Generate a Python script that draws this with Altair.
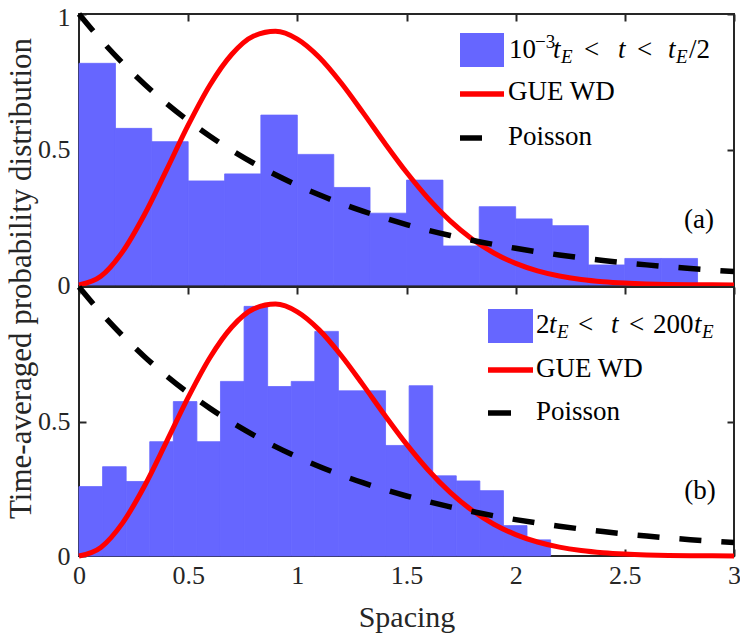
import altair as alt
import pandas as pd

# ---------------- data ----------------
s_grid = [0.0, 0.1, 0.2, 0.3, 0.4, 0.5, 0.6, 0.7, 0.8, 0.9, 1.0,
          1.1, 1.2, 1.3, 1.4, 1.5, 1.6, 1.7, 1.8, 1.9, 2.0,
          2.1, 2.2, 2.3, 2.4, 2.5, 2.6, 2.7, 2.8, 2.9, 3.0]
gue_wd = [0.0, 0.0320, 0.1233, 0.2602, 0.4232, 0.5896, 0.7381, 0.8514, 0.9187, 0.9364, 0.9076,
          0.8406, 0.7464, 0.6371, 0.5240, 0.4158, 0.3188, 0.2364, 0.1697, 0.1181, 0.0797,
          0.0521, 0.0331, 0.0204, 0.0122, 0.0071, 0.0040, 0.0022, 0.0012, 0.0006, 0.0003]
poisson = [1.0, 0.9048, 0.8187, 0.7408, 0.6703, 0.6065, 0.5488, 0.4966, 0.4493, 0.4066, 0.3679,
           0.3329, 0.3012, 0.2725, 0.2466, 0.2231, 0.2019, 0.1827, 0.1653, 0.1496, 0.1353,
           0.1225, 0.1108, 0.1003, 0.0907, 0.0821, 0.0743, 0.0672, 0.0608, 0.0550, 0.0498]

top_edges = [0.0, 0.167, 0.333, 0.5, 0.667, 0.833, 1.0, 1.167, 1.333, 1.5, 1.667,
             1.833, 2.0, 2.167, 2.333, 2.5, 2.667, 2.833]
top_heights = [0.818, 0.578, 0.529, 0.384, 0.410, 0.627, 0.482, 0.360, 0.265, 0.387,
               0.144, 0.289, 0.244, 0.219, 0.074, 0.098, 0.098]

bot_edges = [0.0, 0.108, 0.216, 0.324, 0.432, 0.54, 0.648, 0.756, 0.864, 0.972, 1.08,
             1.188, 1.296, 1.404, 1.512, 1.62, 1.728, 1.836, 1.944, 2.052, 2.16]
bot_heights = [0.258, 0.332, 0.277, 0.425, 0.574, 0.425, 0.649, 0.928, 0.630, 0.649,
               0.835, 0.614, 0.614, 0.411, 0.633, 0.298, 0.279, 0.243, 0.113, 0.060]

x_ticks = [0, 0.5, 1, 1.5, 2, 2.5, 3]
top_y_ticks = [0, 0.5, 1]
bot_y_ticks = [0, 0.5]

FONT = "'Liberation Serif', 'DejaVu Serif', serif"
BLUE = "#6666ff"
AX = "#262626"
W = 655

curve_df = pd.DataFrame({"s": s_grid, "gue": gue_wd, "poisson": poisson})
one = pd.DataFrame({"k": [0]})

xs = alt.Scale(domain=[0, 3], nice=False, zero=False)
ys = alt.Scale(domain=[0, 1], nice=False, zero=False)


def tick_axis(orient, values):
    return alt.Axis(orient=orient, values=values, labels=False, domain=False, grid=False,
                    ticks=True, tickSize=7, tickWidth=2, tickColor=AX, offset=-7, title=None)


def txt(t, x, y, size=27, style="normal", align="left", baseline="alphabetic"):
    return alt.Chart(one).mark_text(text=t, font=FONT, fontSize=size, fontStyle=style,
                                    align=align, baseline=baseline, color="black").encode(
        x=alt.value(x), y=alt.value(y))


def panel(edges, heights, h, top, pieces, legend_geo, tag, tag_xy):
    bars_df = pd.DataFrame({"x0": edges[:-1], "x1": edges[1:], "h": heights,
                            "b": [0.0] * len(heights)})
    if top:
        xax = None
        yax = alt.Axis(values=top_y_ticks, format="~g", tickSize=0, ticks=False, domain=False,
                       grid=False, labelPadding=9, labelFont=FONT, labelFontSize=26,
                       labelColor=AX, labelFlush=False,
                       labelOffset={"condition": {"test": "datum.value == 1", "value": 3},
                                    "value": 0},
                       title="Time-averaged probability distribution", titleFont=FONT,
                       titleFontSize=31, titleFontWeight="normal", titleColor=AX,
                       titleX=-49, titleY=264, titleAngle=270, titleAlign="center",
                       titleBaseline="alphabetic")
    else:
        xax = alt.Axis(values=x_ticks, format="~g", tickSize=0, ticks=False, domain=False,
                       grid=False, labelPadding=6, labelFont=FONT, labelFontSize=26,
                       labelColor=AX, labelFlush=False,
                       title="Spacing", titleFont=FONT, titleFontSize=30,
                       titleFontWeight="normal", titleColor=AX, titleY=70,
                       titleBaseline="alphabetic")
        yax = alt.Axis(values=bot_y_ticks, format="~g", tickSize=0, ticks=False, domain=False,
                       grid=False, labelPadding=9, labelFont=FONT, labelFontSize=26,
                       labelColor=AX, labelFlush=False, title=None)

    bars = alt.Chart(bars_df).mark_rect(color=BLUE, stroke=BLUE, strokeWidth=0.8).encode(
        x=alt.X("x0:Q", scale=xs, axis=xax),
        x2="x1:Q",
        y=alt.Y("h:Q", scale=ys, axis=yax),
        y2="b:Q",
    )
    yvals = top_y_ticks if top else bot_y_ticks
    gue = alt.Chart(curve_df).mark_line(color="#ff0000", strokeWidth=5, interpolate="monotone").encode(
        x=alt.X("s:Q", scale=xs, axis=tick_axis("top", x_ticks)),
        y=alt.Y("gue:Q", scale=ys, axis=tick_axis("right", yvals)),
    )
    if top:
        pois_x_axis = None
    else:
        pois_x_axis = tick_axis("bottom", x_ticks)
    pois = alt.Chart(curve_df).mark_line(color="black", strokeWidth=5.5, strokeDash=[22, 20],
                                         interpolate="monotone").encode(
        x=alt.X("s:Q", scale=xs, axis=pois_x_axis),
        y=alt.Y("poisson:Q", scale=ys, axis=tick_axis("left", yvals)),
    )

    lx0, lx1, sq_y0, sq_y1, red_y, dash_x1, dash_y, tx, gue_base, pois_base = legend_geo
    leg_sq = alt.Chart(one).mark_rect(color=BLUE).encode(
        x=alt.value(lx0), x2=alt.value(lx1), y=alt.value(sq_y0), y2=alt.value(sq_y1))
    leg_red = alt.Chart(one).mark_rule(color="#ff0000", strokeWidth=5.5).encode(
        x=alt.value(lx0), x2=alt.value(lx1), y=alt.value(red_y))
    leg_dash = alt.Chart(one).mark_rule(color="black", strokeWidth=5.5).encode(
        x=alt.value(lx0), x2=alt.value(dash_x1), y=alt.value(dash_y))

    layers = [bars, gue, pois, leg_sq, leg_red, leg_dash]
    for (t, x, y, size, style) in pieces:
        layers.append(txt(t, x, y, size, style))
    layers.append(txt("GUE WD", tx, gue_base))
    layers.append(txt("Poisson", tx, pois_base))
    layers.append(txt(tag, tag_xy[0], tag_xy[1], 27, "normal", "center", "middle"))

    return alt.layer(*layers).resolve_axis(x="independent", y="independent").properties(
        width=W, height=h)


top_pieces = [
    ("10", 430, 44, 27, "normal"),
    ("\u22123", 456, 34, 19, "normal"),
    ("t", 474, 44, 27, "italic"),
    ("E", 482, 49, 19, "italic"),
    ("<", 505, 44, 27, "normal"),
    ("t", 539, 44, 27, "italic"),
    ("<", 558, 44, 27, "normal"),
    ("t", 589, 44, 27, "italic"),
    ("E", 597, 49, 19, "italic"),
    ("/2", 610, 44, 27, "normal"),
]
bot_pieces = [
    ("2", 457, 46, 27, "normal"),
    ("t", 470, 46, 27, "italic"),
    ("E", 478, 51, 19, "italic"),
    ("<", 499, 46, 27, "normal"),
    ("t", 532, 46, 27, "italic"),
    ("<", 550, 46, 27, "normal"),
    ("200", 574, 46, 27, "normal"),
    ("t", 615, 46, 27, "italic"),
    ("E", 623, 51, 19, "italic"),
]

top_panel = panel(top_edges, top_heights, 271, True, top_pieces,
                  (381, 425, 19, 53, 80, 403, 124, 429, 86, 131), "(a)", (620, 206))
bot_panel = panel(bot_edges, bot_heights, 269, False, bot_pieces,
                  (409, 454, 22, 56, 83, 432, 126, 457, 90, 133), "(b)", (621, 204))

chart = alt.vconcat(top_panel, bot_panel, spacing=2, bounds="flush").properties(
    autosize=alt.AutoSizeParams(type="none"),
    padding={"left": 71, "top": 6, "right": 732 - 71 - W, "bottom": 620},
).configure_view(stroke=AX, strokeWidth=2)

chart.save("out.html", embed_options={"renderer": "svg", "actions": False})
